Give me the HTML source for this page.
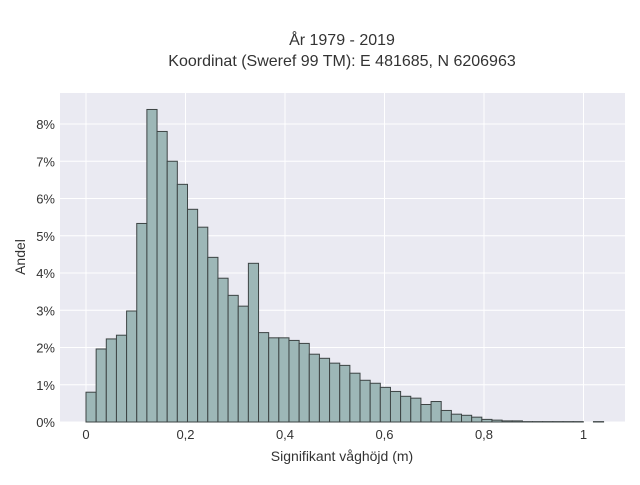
<!DOCTYPE html>
<html><head><meta charset="utf-8"><style>
body{margin:0;background:#fff;}
svg text{font-family:"Liberation Sans",sans-serif;fill:#333;}
</style></head><body>
<svg id="c" width="640" height="480" xmlns="http://www.w3.org/2000/svg">
<rect x="0" y="0" width="640" height="480" fill="#fff"/>
<rect x="60" y="93" width="565" height="329" fill="#eaeaf2"/>
<g id="grid"></g><g id="bars"></g><g id="ticks"></g>
<text x="342" y="45" font-size="16" text-anchor="middle">År 1979 - 2019</text>
<text x="342" y="66" font-size="16" text-anchor="middle">Koordinat (Sweref 99 TM): E 481685, N 6206963</text>
<text x="342" y="461" font-size="14" text-anchor="middle">Signifikant våghöjd (m)</text>
<text x="25" y="257" font-size="14" text-anchor="middle" transform="rotate(-90 25 257)">Andel</text>
</svg>
<script>
const binWidth = 0.0204;
const shares = [0.80,1.96,2.23,2.33,2.98,5.33,8.39,7.80,7.00,6.38,5.71,5.23,4.42,3.86,3.40,3.11,4.26,2.40,2.26,2.26,2.19,2.11,1.82,1.71,1.58,1.52,1.31,1.12,1.04,0.93,0.82,0.69,0.64,0.47,0.55,0.31,0.21,0.18,0.13,0.07,0.05,0.03,0.03,0.01,0.01,0.01,0.01,0.01,0.01,0,0.01];
const yTicks = [0,1,2,3,4,5,6,7,8];
const xTicks = [0,0.2,0.4,0.6,0.8,1];
const xTickLabels = ["0","0,2","0,4","0,6","0,8","1"];
const NS="http://www.w3.org/2000/svg";
const xs=v=>86+v*497.5, ys=v=>422-v*37.25;
const grid=document.getElementById('grid'),bars=document.getElementById('bars'),ticks=document.getElementById('ticks');
function mk(t,a,p){const e=document.createElementNS(NS,t);for(const k in a)e.setAttribute(k,a[k]);p.appendChild(e);return e;}
yTicks.forEach(v=>{
  const l=mk('line',{x1:60,x2:625,y1:ys(v),y2:ys(v),stroke:'#fff','stroke-width':1},grid);
  
  
  const t=mk('text',{x:55,y:ys(v)+5,'font-size':13,'text-anchor':'end'},ticks);t.textContent=v+'%';
  
  
});
xTicks.forEach((v,i)=>{
  const l=mk('line',{x1:xs(v),x2:xs(v),y1:93,y2:422,stroke:'#fff','stroke-width':1},grid);
  
  
  const t=mk('text',{x:xs(v),y:439,'font-size':13,'text-anchor':'middle'},ticks);t.textContent=xTickLabels[i];
  
  
});
shares.forEach((s,i)=>{
  if(s<=0)return;
  const x0=xs(i*binWidth),x1=xs((i+1)*binWidth);
  const r=mk('rect',{x:x0,y:ys(s),width:x1-x0,height:ys(0)-ys(s),fill:'#9db7b7',stroke:'#3d4444','stroke-width':1},bars);
  
  
});
</script>
</body></html>
